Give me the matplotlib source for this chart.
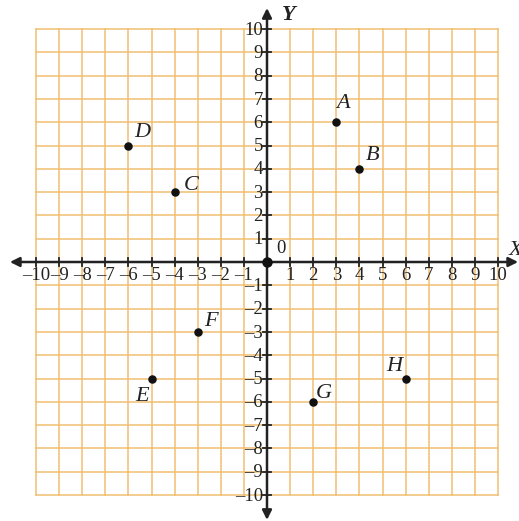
import matplotlib.pyplot as plt

# points to plot
names = ['A', 'B', 'C', 'D', 'E', 'F', 'G', 'H']
xs = [3, 4, -4, -6, -5, -3, 2, 6]
ys = [6, 4, 3, 5, -5, -3, -6, -5]

# label offsets in pixels (dx, dy) from each dot
offsets = [(7, 19), (13, 13), (17, 7), (14, 13), (-9, -18), (13, 10), (11, 8), (-11, 12)]

ticks = [t for t in range(-10, 11) if t != 0]

grid_color = '#F0BE70'
serif = 'Liberation Serif'

fig = plt.figure(figsize=(5.19, 5.21), dpi=100)
ax = fig.add_axes([0, 0, 1, 1])
ax.set_xlim(-267 / 23.1, (519 - 267) / 23.1)
ax.set_ylim(-(521 - 262) / 23.3, 262 / 23.3)
ax.axis('off')

# grid
for v in range(-10, 11):
    ax.plot([v, v], [-10, 10], color=grid_color, lw=1.1, zorder=1)
    ax.plot([-10, 10], [v, v], color=grid_color, lw=1.1, zorder=1)

# axes with arrows
ax.annotate('', xy=(10.87, 0), xytext=(-11.13, 0),
            arrowprops=dict(arrowstyle='<|-|>', color='#222222', lw=1.8,
                            mutation_scale=14, shrinkA=0, shrinkB=0), zorder=3)
ax.annotate('', xy=(0, 10.9), xytext=(0, -11.07),
            arrowprops=dict(arrowstyle='<|-|>', color='#222222', lw=1.8,
                            mutation_scale=14, shrinkA=0, shrinkB=0), zorder=3)

# tick marks and labels
tick_half = 4 / 23.2
for t in ticks:
    ax.plot([t, t], [-tick_half, tick_half], color='#222222', lw=1.3, zorder=3)
    ax.plot([-tick_half, tick_half], [t, t], color='#222222', lw=1.3, zorder=3)
    lab = str(t).replace('-', '\u2013')
    ax.text(t, -0.22, lab, ha='center', va='top', fontsize=13.5, family=serif, color='#222222')
    ax.text(-0.18, t - 0.05, lab, ha='right', va='center', fontsize=13.5, family=serif, color='#222222')

ax.text(0.6, 0.22, '0', ha='center', va='bottom', fontsize=13.5, family=serif, color='#222222')
ax.plot(0, 0, 'o', color='#111111', ms=6.5, zorder=4)

ax.text(10.45, 0.1, 'X', ha='left', va='bottom', fontsize=16, family=serif,
        style='italic', color='#222222')
ax.text(0.95, 10.6, 'Y', ha='center', va='center', fontsize=16, family=serif,
        style='italic', weight='bold', color='#222222')

# points
ax.scatter(xs, ys, s=26, color='#111111', zorder=5)
for n, x, y, (dx, dy) in zip(names, xs, ys, offsets):
    ax.annotate(n, (x, y), xytext=(dx, dy), textcoords='offset pixels',
                ha='center', va='center', fontsize=16, family=serif,
                style='italic', color='#222222')

fig.savefig('out.png', dpi=100)
